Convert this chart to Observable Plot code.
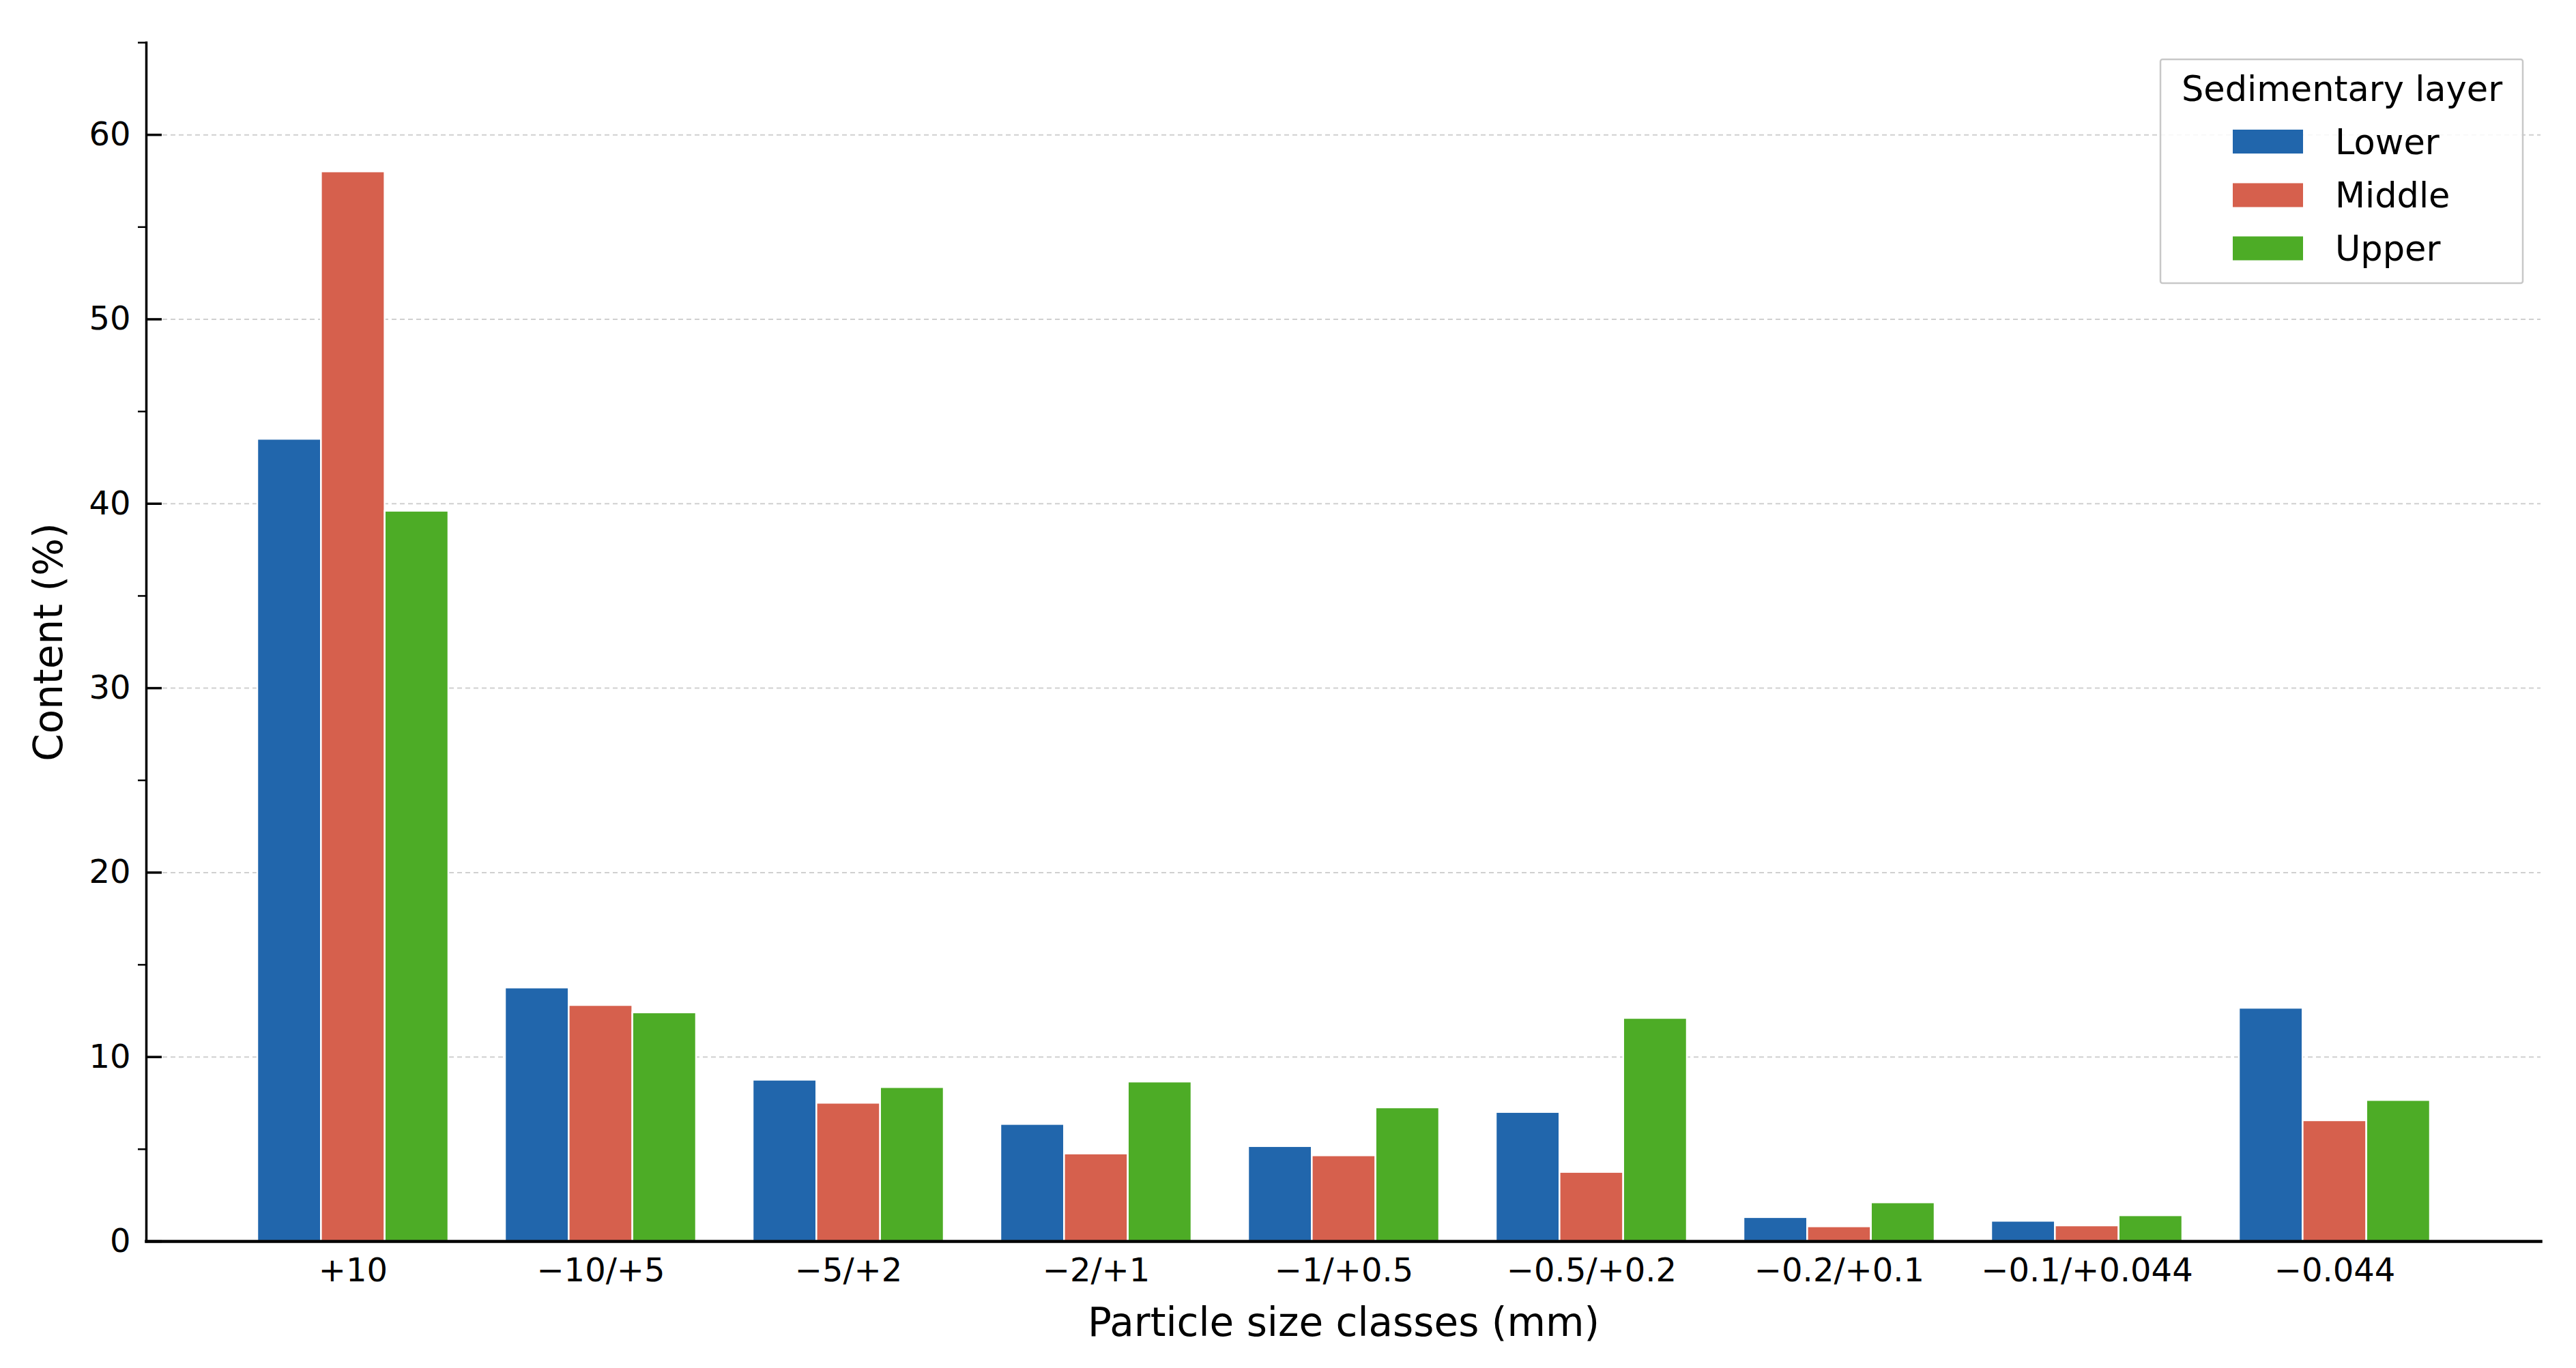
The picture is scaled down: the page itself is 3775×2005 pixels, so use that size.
<!DOCTYPE html>
<html>
<head>
<meta charset="utf-8">
<script src="https://cdn.jsdelivr.net/npm/d3@7"></script>
<script src="https://cdn.jsdelivr.net/npm/@observablehq/plot@0.6"></script>
<style>
  html, body { margin: 0; padding: 0; background: white; }
  #wrap { position: relative; width: 3775px; height: 2005px; }
  #legend { position: absolute; left: 0; top: 0; pointer-events: none; }
</style>
</head>
<body>
<div id="wrap"></div>
<script>
// ---- data ----
const categories = ["+10", "\u221210/+5", "\u22125/+2", "\u22122/+1", "\u22121/+0.5", "\u22120.5/+0.2", "\u22120.2/+0.1", "\u22120.1/+0.044", "\u22120.044"];
const layers = ["Lower", "Middle", "Upper"];
const lowerValues  = [43.5, 13.75, 8.75, 6.35, 5.15, 7.0, 1.3, 1.1, 12.65];
const middleValues = [58.0, 12.8, 7.5, 4.75, 4.65, 3.75, 0.8, 0.85, 6.55];
const upperValues  = [39.6, 12.4, 8.35, 8.65, 7.25, 12.1, 2.1, 1.4, 7.65];
const layerColors = ["#2166ac", "#d6604d", "#4dac26"];
const majorTicks = [0, 10, 20, 30, 40, 50, 60];
const gridTicks = [10, 20, 30, 40, 50, 60];
const minorTicks = [5, 15, 25, 35, 45, 55, 65];
const legendTitle = "Sedimentary layer";
const xTitle = "Particle size classes (mm)";
const yTitle = "Content (%)";

const seriesValues = [lowerValues, middleValues, upperValues];
const rows = [];
layers.forEach((layer, li) => {
  categories.forEach((c, ci) => rows.push({category: c, layer, value: seriesValues[li][ci]}));
});

// ---- layout ----
const W = 3775, H = 2005;
const mL = 214, mR = 52, mT = 62, mB = 186;
const frameW = W - mL - mR;
const pInner = 0.229, pOuter = 0.444;
const step = frameW / (categories.length - pInner + 2 * pOuter);
const bw = step * (1 - pInner);
const third = bw / 3;
const insetsFor = [
  {insetLeft: 0, insetRight: 2 * third},
  {insetLeft: third, insetRight: third},
  {insetLeft: 2 * third, insetRight: 0}
];

const chart = Plot.plot({
  width: W, height: H,
  marginLeft: mL, marginRight: mR, marginTop: mT, marginBottom: mB,
  style: {fontFamily: "DejaVu Sans", background: "white", color: "black"},
  x: {domain: categories, paddingInner: pInner, paddingOuter: pOuter, label: null},
  y: {domain: [0, 65], label: null},
  color: {domain: layers, range: layerColors},
  marks: [
    Plot.ruleY(gridTicks, {stroke: "#d0d0d0", strokeWidth: 2, strokeDasharray: "7,5"}),
    ...layers.map((layer, li) => Plot.barY(rows.filter(r => r.layer === layer), {
      x: "category", y: "value", fill: "layer",
      stroke: "white", strokeWidth: 2.5,
      ...insetsFor[li]
    })),
    Plot.ruleY(majorTicks, {stroke: "black", strokeWidth: 3.5, insetRight: frameW - 23}),
    Plot.ruleY(minorTicks, {stroke: "black", strokeWidth: 2.5, insetLeft: -12, insetRight: frameW}),
    Plot.frame({anchor: "left", stroke: "black", strokeWidth: 3.5}),
    Plot.frame({anchor: "bottom", stroke: "black", strokeWidth: 4.5}),
    Plot.axisX({tickSize: 0, tickPadding: 24, fontSize: 48, label: null}),
    Plot.axisY({ticks: majorTicks, tickSize: 0, tickPadding: 23, fontSize: 48, label: null}),
    Plot.text([yTitle], {text: d => d, frameAnchor: "left", dx: -124, rotate: -90, textAnchor: "middle", lineAnchor: "bottom", fontSize: 58}),
    Plot.text([xTitle], {text: d => d, frameAnchor: "bottom", dy: 138, textAnchor: "middle", lineAnchor: "bottom", fontSize: 58})
  ]
});

const wrap = document.getElementById("wrap");
wrap.appendChild(chart);

// ---- legend ----
const svg = d3.select(wrap).append("svg")
  .attr("id", "legend").attr("width", W).attr("height", H)
  .style("font-family", "DejaVu Sans");
svg.append("rect").attr("x", 3166).attr("y", 87).attr("width", 531).attr("height", 328)
  .attr("rx", 3).attr("fill", "white").attr("fill-opacity", 0.85)
  .attr("stroke", "#c8c8c8").attr("stroke-width", 2.5);
svg.append("text").attr("x", 3432).attr("y", 148).attr("text-anchor", "middle")
  .attr("font-size", 51).text(legendTitle);
const rowY = [207.5, 286, 364];
layers.forEach((layer, i) => {
  svg.append("rect").attr("x", 3272).attr("y", rowY[i] - 17.5).attr("width", 103).attr("height", 35)
    .attr("fill", layerColors[i]);
  svg.append("text").attr("x", 3422).attr("y", rowY[i] + 18).attr("font-size", 51).text(layer);
});
</script>
</body>
</html>
